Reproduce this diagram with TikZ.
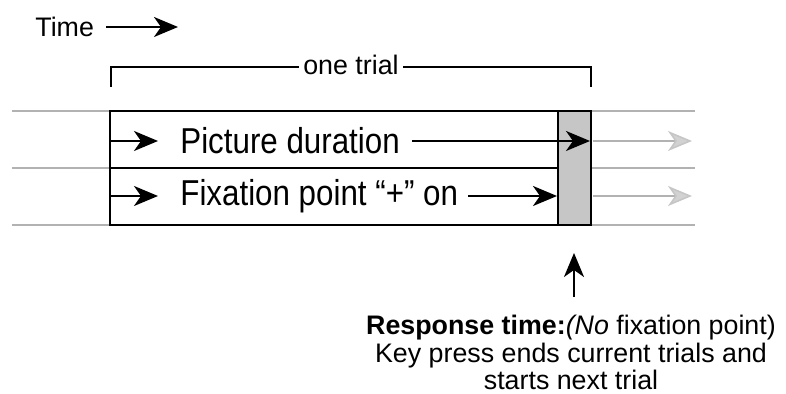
\documentclass[tikz,border=0pt]{standalone}
\usepackage{fontspec}
\setmainfont{Liberation Sans}
\usetikzlibrary{arrows.meta}
\newcommand{\cnd}[1]{\scalebox{0.87}[1]{#1}}
\begin{document}
\begin{tikzpicture}[x=0.5pt,y=-0.5pt,
  boxline/.style={line width=1.3pt},
  bline/.style={line width=1pt},
  arr/.style={line width=1.1pt,-{Stealth[length=12pt,width=10pt,inset=3.5pt]}},
  gline/.style={line width=0.8pt,gray!60},
  garr/.style={gline,-{Stealth[length=12pt,width=10pt,inset=3.5pt,fill=gray!35,color=gray!45]}},
  bigtxt/.style={inner sep=0pt,font=\fontsize{18}{20}\selectfont},
  smalltxt/.style={inner sep=0pt,font=\fontsize{13.4}{13.6}\selectfont},
]
\useasboundingbox (0,0) rectangle (786,394);

% time axis
\node[smalltxt,anchor=west] (time) at (35,27) {Time};
\coordinate (timeend) at (178,27);
\draw[arr] ([xshift=6pt]time.east |- timeend) -- (timeend);

% one-trial bracket
\node[smalltxt,anchor=base,inner xsep=2pt] (trial) at (351,75) {one trial};
\coordinate (brk) at (0,67);
\coordinate (bl) at (111,87);
\coordinate (br) at (591,87);
\draw[bline] (bl) |- (trial.west |- brk);
\draw[bline] (trial.east |- brk) -| (br);

% gray timeline lines
\coordinate (gl1) at (12,111); \coordinate (gl2) at (12,168); \coordinate (gl3) at (12,225);
\coordinate (bx1) at (110,111); \coordinate (bx2) at (110,168); \coordinate (bx3) at (110,225);
\coordinate (gr1) at (695,111); \coordinate (gr2) at (695,168); \coordinate (gr3) at (695,225);
\coordinate (cr1) at (592,111); \coordinate (cr2) at (592,168); \coordinate (cr3) at (592,225);
\draw[gline] (gl1) -- (bx1);
\draw[gline] (gl2) -- (bx2);
\draw[gline] (gl3) -- (bx3);
\draw[gline] (cr1) -- (gr1);
\draw[gline] (cr2) -- (gr2);
\draw[gline] (cr3) -- (gr3);

% response column
\draw[bline,fill=gray!45] (558,111) rectangle (591,225);
% box
\draw[boxline] (bx1) rectangle (591,225);
\draw[boxline] (bx2) -- (558,168);

% row 1
\coordinate (r1s) at (110,141);
\coordinate (r1a) at (158,141);
\node[bigtxt,anchor=west] (pd) at (180,141) {\cnd{Picture duration}};
\coordinate (r1e) at (590,141);
\draw[arr] (r1s) -- (r1a);
\draw[arr] ([xshift=6pt]pd.east) -- (r1e);
\coordinate (g1s) at (593,141);
\coordinate (g1e) at (692,141);
\draw[garr] (g1s) -- (g1e);

% row 2
\coordinate (r2s) at (110,196);
\coordinate (r2a) at (158,196);
\node[bigtxt,anchor=west] (fp) at (180,196) {\cnd{Fixation point “+” on}};
\coordinate (r2e) at (557,196);
\draw[arr] (r2s) -- (r2a);
\draw[arr] ([xshift=5pt]fp.east) -- (r2e);
\coordinate (g2s) at (593,196);
\coordinate (g2e) at (692,196);
\draw[garr] (g2s) -- (g2e);

% response annotation
\node[smalltxt,align=center,anchor=north] (resp) at (571,315)
  {\textbf{Response time:}\textit{(No} fixation point)\\
   Key press ends current trials and\\
   starts next trial};
\coordinate (uptail) at (574,297);
\coordinate (uptip) at (574,253);
\draw[arr] (uptail) -- (uptip);
\end{tikzpicture}
\end{document}
